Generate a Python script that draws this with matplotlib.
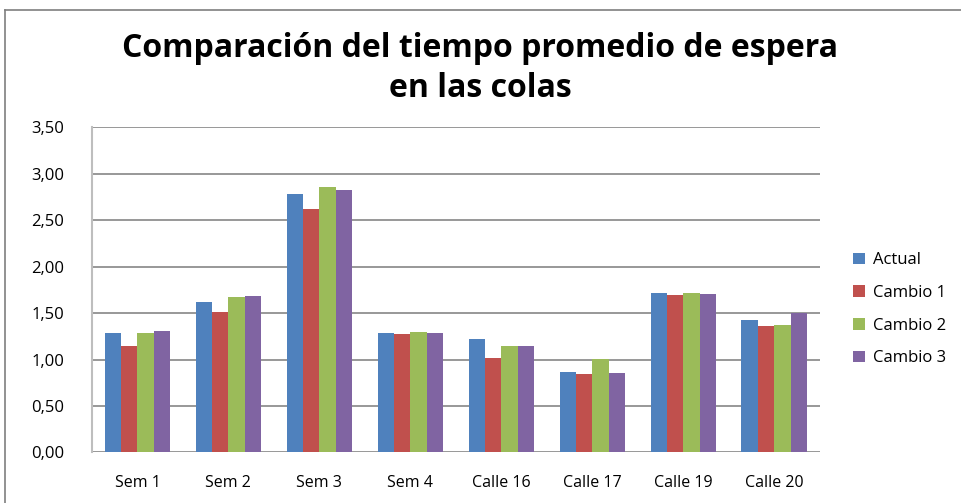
import matplotlib
matplotlib.use('Agg')
import matplotlib.pyplot as plt
import numpy as np
from matplotlib.lines import Line2D

categories = ['Sem 1', 'Sem 2', 'Sem 3', 'Sem 4', 'Calle 16', 'Calle 17', 'Calle 19', 'Calle 20']
actual = [1.29, 1.62, 2.78, 1.29, 1.22, 0.87, 1.71, 1.42]
cambio1 = [1.14, 1.51, 2.62, 1.27, 1.02, 0.84, 1.69, 1.36]
cambio2 = [1.28, 1.67, 2.85, 1.30, 1.15, 1.01, 1.71, 1.37]
cambio3 = [1.31, 1.68, 2.82, 1.28, 1.15, 0.86, 1.70, 1.50]
series_names = ['Actual', 'Cambio 1', 'Cambio 2', 'Cambio 3']
colors = ['#4F81BD', '#C0504D', '#9BBB59', '#8064A2']
yticks = [0, 0.5, 1.0, 1.5, 2.0, 2.5, 3.0, 3.5]

plt.rcParams['font.family'] = ['Open Sans', 'DejaVu Sans']

fig = plt.figure(figsize=(9.61, 5.03), dpi=100)
ax = fig.add_axes([0.0957, 0.1004, 0.7573, 0.6471])

x = np.arange(len(categories))
w = 0.18
for i, (vals, name, c) in enumerate(zip([actual, cambio1, cambio2, cambio3], series_names, colors)):
    ax.bar(x + (i - 1.5) * w, vals, width=w, color=c, label=name, zorder=3)

ax.set_xlim(-0.5, len(categories) - 0.5)
ax.set_ylim(0, 3.5)
ax.set_yticks(yticks)
ax.set_yticklabels([f'{v:.2f}'.replace('.', ',') for v in yticks], fontsize=12)
ax.set_xticks(x)
ax.set_xticklabels(categories, fontsize=11.5)
ax.tick_params(axis='x', length=0, pad=16)
ax.tick_params(axis='y', length=0, pad=20)
ax.grid(axis='y', color='#868686', linewidth=1.2, zorder=0)
for s in ['top', 'right', 'bottom']:
    ax.spines[s].set_visible(False)
ax.spines['left'].set_color('#BEBEBE')
ax.spines['left'].set_linewidth(1.5)

fig.text(0.5, 0.864, 'Comparación del tiempo promedio de espera\nen las colas', ha='center', va='center',
         fontsize=23, fontweight='bold', linespacing=1.3)

ax.legend(loc='center left', bbox_to_anchor=(0.872, 0.385), bbox_transform=fig.transFigure,
          frameon=False, fontsize=12, labelspacing=1.0, handlelength=0.7, handleheight=0.7,
          handletextpad=0.5)

# chart border (top and left)
fig.add_artist(Line2D([5 / 961, 1], [1 - 10 / 503, 1 - 10 / 503], transform=fig.transFigure, color='#7F7F7F', lw=1.2))
fig.add_artist(Line2D([5 / 961, 5 / 961], [0, 1 - 10 / 503], transform=fig.transFigure, color='#7F7F7F', lw=1.2))

fig.savefig('out.png', dpi=100)
